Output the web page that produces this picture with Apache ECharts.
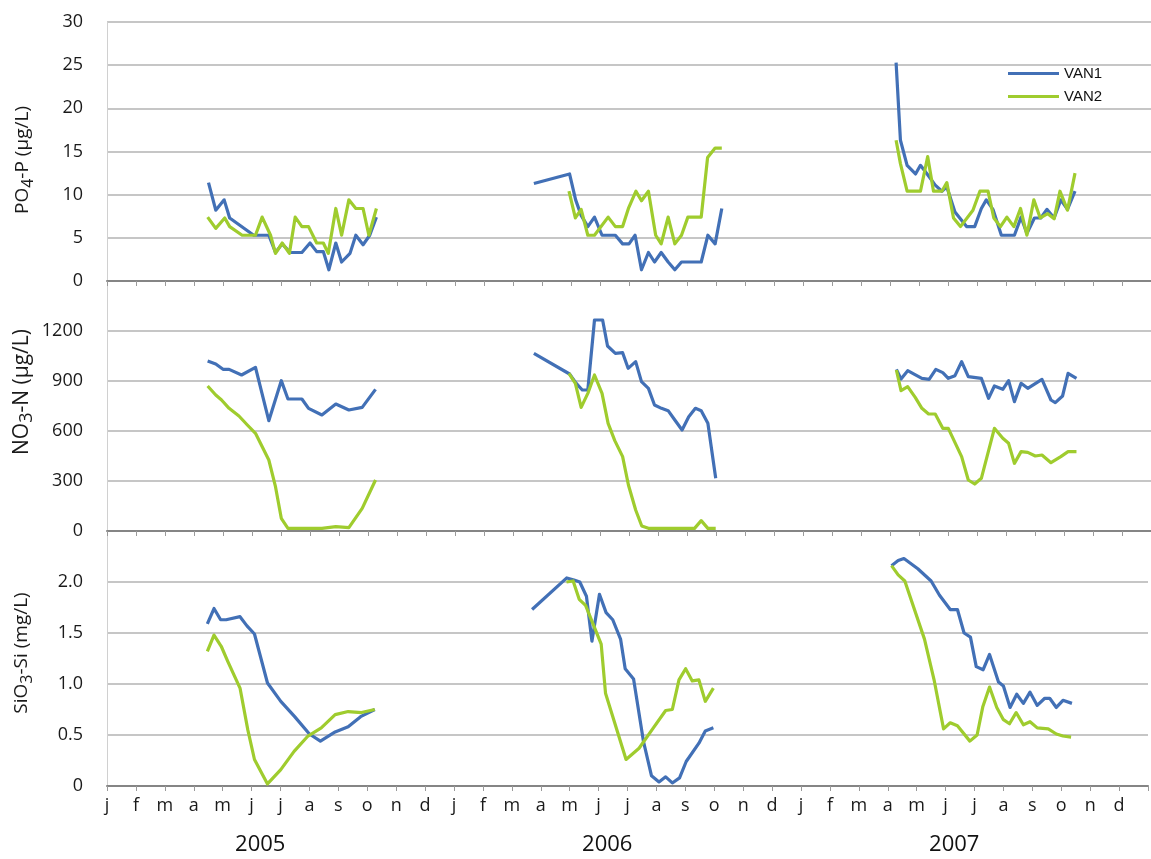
<!DOCTYPE html>
<html>
<head>
<meta charset="utf-8">
<script src="https://cdn.jsdelivr.net/npm/echarts@6/dist/echarts.min.js"></script>
<style>
  html, body { margin: 0; padding: 0; background: #ffffff; }
  #chart { width: 1151px; height: 859px; }
</style>
</head>
<body>
<div id="chart"></div>
<script>
// Time is expressed in months since 1 January 2005 (0 = start of Jan 2005).
const monthLetters = ['j', 'f', 'm', 'a', 'm', 'j', 'j', 'a', 's', 'o', 'n', 'd'];
const yearLabels = ['2005', '2006', '2007'];
const stations = ['VAN1', 'VAN2'];
const stationColors = ['#4270b6', '#9fcc2e'];

// PO4-P (µg/L)
const po4Van1 = [
  [3.50, 11.4], [3.75, 8.2], [4.04, 9.4], [4.23, 7.3], [5.06, 5.3], [5.58, 5.3], [5.81, 3.3], [6.04, 4.3],
  [6.32, 3.3], [6.72, 3.3], [7.00, 4.4], [7.23, 3.4], [7.46, 3.4], [7.65, 1.3], [7.89, 4.4], [8.09, 2.2],
  [8.38, 3.2], [8.58, 5.3], [8.83, 4.2], [9.06, 5.3], [9.29, 7.4],
  [14.72, 11.3], [15.95, 12.4], [16.16, 9.4], [16.35, 7.6], [16.58, 6.3], [16.81, 7.4], [17.07, 5.3],
  [17.53, 5.3], [17.78, 4.3], [18.00, 4.3], [18.21, 5.3], [18.43, 1.3], [18.67, 3.3], [18.88, 2.2],
  [19.11, 3.3], [19.35, 2.2], [19.58, 1.3], [19.81, 2.2], [20.49, 2.2], [20.72, 5.3], [20.97, 4.3], [21.20, 8.4],
  [27.21, 25.3], [27.36, 16.3], [27.59, 13.4], [27.88, 12.4], [28.05, 13.4], [28.28, 12.4], [28.56, 11.1],
  [28.79, 10.4], [28.96, 10.9], [29.24, 8.0], [29.64, 6.3], [29.92, 6.3], [30.15, 8.4], [30.32, 9.4],
  [30.55, 8.3], [30.84, 5.3], [31.29, 5.3], [31.52, 7.4], [31.72, 5.5], [31.98, 7.3], [32.20, 7.3],
  [32.41, 8.3], [32.66, 7.3], [32.89, 9.4], [33.12, 8.3], [33.38, 10.4]
];
const po4Van2 = [
  [3.47, 7.4], [3.75, 6.1], [4.06, 7.3], [4.23, 6.3], [4.66, 5.3], [5.12, 5.3], [5.35, 7.4], [5.64, 5.3],
  [5.81, 3.2], [6.04, 4.4], [6.29, 3.2], [6.49, 7.4], [6.72, 6.3], [6.95, 6.3], [7.23, 4.4], [7.46, 4.4],
  [7.63, 3.2], [7.89, 8.4], [8.09, 5.3], [8.34, 9.4], [8.58, 8.4], [8.83, 8.4], [9.03, 5.3], [9.29, 8.4],
  [15.93, 10.4], [16.15, 7.3], [16.35, 8.3], [16.58, 5.3], [16.81, 5.3], [17.28, 7.4], [17.53, 6.3],
  [17.78, 6.3], [17.98, 8.4], [18.24, 10.4], [18.43, 9.3], [18.67, 10.4], [18.92, 5.3], [19.11, 4.3],
  [19.35, 7.4], [19.58, 4.3], [19.81, 5.3], [20.03, 7.4], [20.49, 7.4], [20.71, 14.3], [20.97, 15.4], [21.20, 15.4],
  [27.21, 16.3], [27.36, 13.6], [27.59, 10.4], [28.05, 10.4], [28.30, 14.4], [28.50, 10.4], [28.79, 10.4],
  [28.96, 11.4], [29.19, 7.3], [29.43, 6.3], [29.86, 8.2], [30.10, 10.4], [30.38, 10.4], [30.58, 7.3],
  [30.81, 6.3], [31.03, 7.4], [31.27, 6.3], [31.50, 8.4], [31.72, 5.3], [31.96, 9.4], [32.18, 7.3],
  [32.44, 7.8], [32.66, 7.2], [32.86, 10.4], [33.12, 8.2], [33.38, 12.5]
];

// NO3-N (µg/L)
const no3Van1 = [
  [3.47, 1020], [3.75, 1002], [4.00, 970], [4.21, 970], [4.64, 936], [5.12, 982], [5.58, 662], [6.01, 902],
  [6.24, 792], [6.72, 792], [6.95, 736], [7.41, 696], [7.89, 762], [8.34, 726], [8.80, 742], [9.26, 850],
  [14.72, 1066], [15.95, 942], [16.18, 886], [16.39, 846], [16.58, 846], [16.81, 1266], [17.09, 1266],
  [17.26, 1110], [17.53, 1066], [17.78, 1070], [17.97, 976], [18.23, 1016], [18.43, 896], [18.67, 856],
  [18.88, 756], [19.12, 736], [19.35, 722], [19.58, 666], [19.83, 606], [20.06, 686], [20.29, 736],
  [20.49, 722], [20.72, 646], [20.99, 316],
  [27.22, 970], [27.38, 912], [27.61, 962], [28.10, 916], [28.35, 910], [28.58, 970], [28.82, 950],
  [29.01, 916], [29.24, 932], [29.47, 1016], [29.70, 926], [30.15, 916], [30.40, 796], [30.60, 870],
  [30.89, 850], [31.09, 902], [31.29, 776], [31.52, 886], [31.75, 856], [32.24, 910], [32.55, 786],
  [32.70, 770], [32.95, 810], [33.14, 946], [33.43, 916]
];
const no3Van2 = [
  [3.47, 870], [3.75, 816], [3.95, 786], [4.21, 736], [4.55, 690], [4.84, 636], [5.12, 586], [5.58, 426],
  [5.81, 266], [6.01, 76], [6.24, 16], [7.41, 16], [7.89, 26], [8.34, 20], [8.80, 136], [9.26, 306],
  [15.93, 946], [16.15, 886], [16.35, 742], [16.58, 826], [16.81, 936], [17.07, 826], [17.28, 646],
  [17.51, 542], [17.78, 446], [17.98, 276], [18.23, 126], [18.44, 30], [18.67, 16], [20.26, 16],
  [20.49, 62], [20.72, 16], [20.99, 16],
  [27.22, 966], [27.38, 842], [27.61, 866], [27.87, 802], [28.10, 736], [28.33, 702], [28.56, 702],
  [28.82, 616], [29.01, 616], [29.47, 446], [29.70, 306], [29.92, 282], [30.15, 316], [30.60, 616],
  [30.89, 556], [31.09, 526], [31.29, 406], [31.52, 476], [31.75, 472], [32.01, 450], [32.24, 456],
  [32.55, 410], [32.89, 446], [33.14, 476], [33.43, 476]
];

// SiO3-Si (mg/L)
const sio3Van1 = [
  [3.47, 1.59], [3.70, 1.74], [3.93, 1.63], [4.12, 1.63], [4.60, 1.66], [4.84, 1.57], [5.10, 1.49],
  [5.55, 1.01], [6.01, 0.83], [6.49, 0.68], [7.00, 0.51], [7.38, 0.44], [7.89, 0.53], [8.34, 0.58],
  [8.77, 0.68], [9.26, 0.75],
  [14.70, 1.73], [15.90, 2.04], [16.15, 2.02], [16.35, 2.00], [16.58, 1.86], [16.77, 1.42], [17.03, 1.88],
  [17.26, 1.70], [17.49, 1.63], [17.76, 1.44], [17.92, 1.15], [18.21, 1.05], [18.55, 0.44], [18.83, 0.10],
  [19.09, 0.04], [19.32, 0.09], [19.55, 0.03], [19.80, 0.08], [20.03, 0.24], [20.47, 0.42], [20.69, 0.54],
  [20.97, 0.57],
  [27.13, 2.16], [27.36, 2.21], [27.56, 2.23], [28.04, 2.13], [28.50, 2.01], [28.79, 1.87], [29.16, 1.73],
  [29.41, 1.73], [29.64, 1.50], [29.86, 1.46], [30.06, 1.17], [30.30, 1.14], [30.52, 1.29], [30.83, 1.02],
  [31.00, 0.98], [31.23, 0.77], [31.46, 0.90], [31.69, 0.81], [31.92, 0.92], [32.17, 0.79], [32.43, 0.86],
  [32.60, 0.86], [32.83, 0.77], [33.06, 0.84], [33.37, 0.81]
];
const sio3Van2 = [
  [3.47, 1.32], [3.70, 1.48], [3.95, 1.37], [4.18, 1.22], [4.60, 0.96], [4.87, 0.55], [5.10, 0.26],
  [5.55, 0.02], [6.01, 0.16], [6.47, 0.34], [6.95, 0.49], [7.41, 0.57], [7.89, 0.70], [8.34, 0.73],
  [8.80, 0.72], [9.26, 0.75],
  [15.89, 2.00], [16.12, 2.01], [16.33, 1.83], [16.55, 1.77], [17.09, 1.39], [17.24, 0.91], [17.95, 0.26],
  [18.40, 0.37], [18.87, 0.56], [19.32, 0.74], [19.55, 0.75], [19.78, 1.04], [20.01, 1.15], [20.24, 1.03],
  [20.47, 1.04], [20.69, 0.83], [20.97, 0.96],
  [27.13, 2.16], [27.36, 2.07], [27.59, 2.01], [28.27, 1.44], [28.61, 1.03], [28.93, 0.56], [29.16, 0.62],
  [29.41, 0.59], [29.84, 0.44], [30.09, 0.50], [30.29, 0.78], [30.52, 0.97], [30.77, 0.77], [31.00, 0.65],
  [31.21, 0.61], [31.44, 0.72], [31.69, 0.60], [31.92, 0.63], [32.17, 0.57], [32.55, 0.56], [32.83, 0.51],
  [33.06, 0.49], [33.34, 0.48]
];

const panels = [
  { data: [po4Van1, po4Van2], max: 30, interval: 5, showMax: true, fmt: v => String(v),
    name: '{m|PO}{s|4}{m|-P (µg/L)}', nameSize: 19, nameX: 23, nameY: 160 },
  { data: [no3Van1, no3Van2], max: 1500, interval: 300, showMax: false, fmt: v => String(v),
    name: '{m|NO}{s|3}{m|-N (µg/L)}', nameSize: 21, nameX: 22, nameY: 392 },
  { data: [sio3Van1, sio3Van2], max: 2.5, interval: 0.5, showMax: false, fmt: v => (v === 0 ? '0' : v.toFixed(1)),
    name: '{m|SiO}{s|3}{m|-Si (mg/L)}', nameSize: 19, nameX: 22, nameY: 653 }
];

const FONT = '"Open Sans", "Noto Sans", sans-serif';
const gridBoxes = [
  { top: 22, height: 259 },
  { top: 281, height: 250 },
  { top: 531, height: 255 }
];

// Break a station's record into one line per sampling season.
function seasons(points) {
  const out = [];
  let cur = [];
  points.forEach((p, i) => {
    if (i > 0 && p[0] - points[i - 1][0] > 3) { out.push(cur); cur = []; }
    cur.push(p);
  });
  if (cur.length) out.push(cur);
  return out;
}

const grids = gridBoxes.map(b => ({ left: 107, right: -8, top: b.top, height: b.height }));

const xAxes = panels.map((p, k) => ({
  type: 'value', gridIndex: k, min: 0, max: 36, interval: 1,
  splitLine: { show: false },
  axisLine: { show: true, onZero: false, lineStyle: { color: '#858585', width: 2 } },
  axisTick: { show: true, length: 5, lineStyle: { color: '#9a9a9a', width: 1 } },
  axisLabel: {
    show: k === 2, margin: 11, fontSize: 18, fontFamily: FONT, color: '#1a1a1a',
    formatter: v => (Number.isInteger(v) && v < 36 ? monthLetters[v % 12] : '')
  }
}));

const yAxes = panels.map((p, k) => ({
  type: 'value', gridIndex: k, min: 0, max: p.max, interval: p.interval,
  axisLine: { show: true, lineStyle: { color: '#d0d0d0', width: 1 } },
  axisTick: { show: false },
  splitLine: { show: true, lineStyle: { color: '#b3b3b3', width: 1.5 } },
  axisLabel: {
    margin: 24, fontSize: 18, fontFamily: FONT, color: '#1a1a1a',
    showMaxLabel: p.showMax, formatter: p.fmt
  }
}));

const series = [];
panels.forEach((p, k) => {
  p.data.forEach((points, s) => {
    seasons(points).forEach(seg => {
      series.push({
        name: stations[s], type: 'line', xAxisIndex: k, yAxisIndex: k,
        data: seg, showSymbol: false, symbol: 'none', smooth: false,
        lineStyle: { color: stationColors[s], width: 3.2, join: 'round' },
        itemStyle: { color: stationColors[s] },
        z: 2 + s
      });
    });
  });
});

const chart = echarts.init(document.getElementById('chart'), null, { renderer: 'canvas' });

chart.setOption({
  backgroundColor: '#ffffff',
  animation: false,
  grid: grids,
  xAxis: xAxes,
  yAxis: yAxes,
  legend: {
    data: stations, orient: 'vertical', left: 1003, top: 61,
    icon: 'rect', itemWidth: 51, itemHeight: 3, itemGap: 8,
    textStyle: { fontFamily: '"Liberation Sans", Arial, sans-serif', fontSize: 15, color: '#111' }
  },
  series: series
});

// Axis titles (rotated, with chemical subscripts) and year captions under the month axis.
const graphics = panels.map(p => ({
  type: 'text', x: p.nameX, y: p.nameY, rotation: Math.PI / 2,
  style: {
    text: p.name, align: 'center', verticalAlign: 'middle', fill: '#1a1a1a',
    rich: {
      m: { fontSize: p.nameSize, fontFamily: FONT, lineHeight: p.nameSize + 7, fill: '#1a1a1a' },
      s: { fontSize: p.nameSize - 3, fontFamily: FONT, lineHeight: p.nameSize - 3, verticalAlign: 'bottom', fill: '#1a1a1a' }
    }
  }
}));
yearLabels.forEach((label, i) => {
  const px = chart.convertToPixel({ xAxisIndex: 2 }, 12 * i + 5.3);
  graphics.push({
    type: 'text', x: px, y: 845,
    style: { text: label, align: 'center', verticalAlign: 'middle', fontSize: 22, fontFamily: FONT, fill: '#111' }
  });
});
chart.setOption({ graphic: graphics });
</script>
</body>
</html>
